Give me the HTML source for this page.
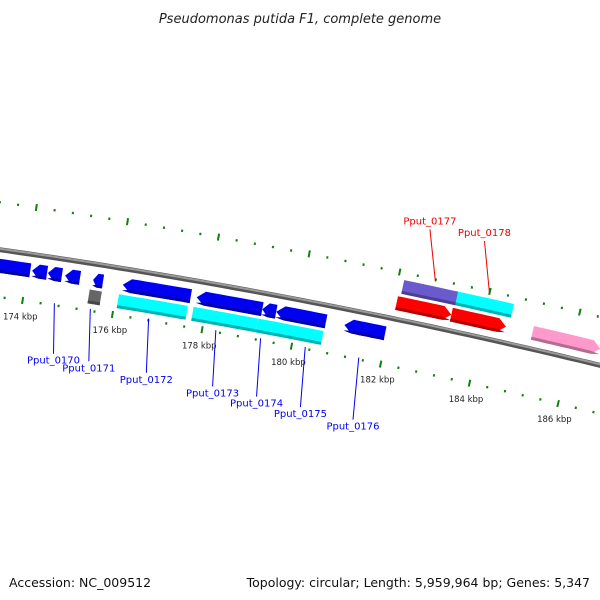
<!DOCTYPE html>
<html><head><meta charset="utf-8"><style>
html,body{margin:0;padding:0;background:#fff;}
svg{display:block;font-family:"DejaVu Sans","Liberation Sans",sans-serif;}
</style></head><body>
<svg id="map" width="600" height="600" viewBox="0 0 600 600">
<text x="300" y="23" text-anchor="middle" font-size="13" font-style="italic" fill="#222">Pseudomonas putida F1, complete genome</text>
<text x="9" y="587" font-size="12.5" fill="#111">Accession: NC_009512</text>
<text x="590" y="587" text-anchor="end" font-size="12.5" fill="#111">Topology: circular; Length: 5,959,964 bp; Genes: 5,347</text>
<g id="plot"></g>
</svg>
<script>
const tickKbp = [172,174,176,178,180,182,184,186,188];
const tickLabels = ["172 kbp","174 kbp","176 kbp","178 kbp","180 kbp","182 kbp","184 kbp","186 kbp","188 kbp"];
const geneStart = [172.3,174.11,174.46,174.84,175.46,176.12,177.76,179.22,179.53,181.05,175.42,176.07,177.73,179.17,179.5,182.13,183.33,182.07,183.29,185.1];
const geneEnd   = [174.07,174.44,174.77,175.17,175.68,177.63,179.22,179.53,180.64,181.96,175.69,177.6,179.17,179.5,180.63,183.33,184.57,183.29,184.51,186.62];
const geneLane  = ["in1","in1","in1","in1","in1","in1","in1","in1","in1","in1","in2","in2","in2","in2","in2","out2","out2","out1","out1","out1"];
const geneDir   = [-1,-1,-1,-1,-1,-1,-1,-1,-1,-1,0,0,0,0,0,0,0,1,1,1];
const geneColor = ["#0000f0","#0000f0","#0000f0","#0000f0","#0000f0","#0000f0","#0000f0","#0000f0","#0000f0","#0000f0","#666666","#00ffff","#00ffff","#00ffff","#00ffff","#6a5acd","#00ffff","#ff0000","#ff0000","#ff99cc"];
const labelNames = ["Pput_0170","Pput_0171","Pput_0172","Pput_0173","Pput_0174","Pput_0175","Pput_0176","Pput_0177","Pput_0178"];
const labelKbp   = [174.7,175.5,176.8,178.3,179.3,180.3,181.5,182.8,184.0];
const labelSide  = [-1,-1,-1,-1,-1,-1,-1,1,1];

const CX=-896, CY=6516, R=6330, PHI0=0.1612, DPHI=0.007235;
function ang(k){return PHI0+(k-176)*DPHI;}
function pt(k,d){const a=ang(k),r=R+d;return [CX+r*Math.sin(a), CY-r*Math.cos(a)];}
const NS="http://www.w3.org/2000/svg";
const plot=document.getElementById('plot');
function mk(tag,attrs){const e=document.createElementNS(NS,tag);for(const k in attrs)e.setAttribute(k,attrs[k]);plot.appendChild(e);return e;}
function ps(arr){return arr.map(p=>p[0].toFixed(1)+","+p[1].toFixed(1)).join(" ");}
const lanes={in1:[-9,-23],in2:[-26,-40],out1:[9,23],out2:[26,40]};

// backbone
let bb=[];for(let k=171;k<=190;k+=0.25)bb.push(pt(k,0));
let bl=mk('polyline',{points:ps(bb),fill:'none',stroke:'#555',"stroke-width":5});


let bl2=mk('polyline',{points:ps(bb.map(p=>[p[0],p[1]-1])),fill:'none',stroke:'#9a9a9a',"stroke-width":2});



// ticks
for(let k=171.2;k<=189;k+=0.4){
  const kk=Math.round(k*10)/10;
  const major=tickKbp.some(t=>Math.abs(t-kk)<0.01);
  [47,-47].forEach(d=>{
    const h=major?3.5:1.2;
    const a=pt(kk,d-h),b=pt(kk,d+h);
    const l=mk('line',{x1:a[0],y1:a[1],x2:b[0],y2:b[1],stroke:'#108010',"stroke-width":major?2:2});
    
    
  });
}
tickKbp.forEach((k,i)=>{
  const p=pt(k,-63);
  const t=mk('text',{x:p[0],y:p[1]+3,"text-anchor":"middle","font-size":"8.5",fill:'#222'});
  t.textContent=tickLabels[i];
  
  
});

function shade(c,f){const n=parseInt(c.slice(1),16);let r=(n>>16)&255,g=(n>>8)&255,b=n&255;r=Math.round(r*f);g=Math.round(g*f);b=Math.round(b*f);return "rgb("+r+","+g+","+b+")";}
function geneShape(s,e,d1,d2,dir){
  const len=e-s, h=Math.min(0.18,len*0.45), n=8, outer=Math.max(d1,d2), inner=Math.min(d1,d2), mid=(d1+d2)/2;
  const top=[],bot=[];
  let a=s,b=e;
  if(dir<0)a=s+h; if(dir>0)b=e-h;
  for(let i=0;i<=n;i++){const k=a+(b-a)*i/n;top.push(pt(k,outer));bot.push(pt(k,inner));}
  let poly=top.slice();
  if(dir>0)poly.push(pt(e,mid));
  poly=poly.concat(bot.reverse());
  if(dir<0)poly.push(pt(s,mid));
  return poly;
}
geneStart.forEach((s,i)=>{
  const ln=lanes[geneLane[i]];
  const poly=geneShape(s,geneEnd[i],ln[0],ln[1],geneDir[i]);
  const g=mk('polygon',{points:ps(poly),fill:geneColor[i]});
  
  
  // darker inner strip
  const inner=Math.min(ln[0],ln[1]);
  const strip=geneShape(s,geneEnd[i],inner,inner+3,geneDir[i]);
  const sd=mk('polygon',{points:ps(strip),fill:shade(geneColor[i],0.7)});
  
  
});

labelNames.forEach((nm,i)=>{
  const side=labelSide[i];
  const col=side<0?'#0000ee':'#ee0000';
  const a=pt(labelKbp[i],side<0?-45:45);
  const b=side<0?pt(labelKbp[i]+0.15,-45-50-i*2):pt(labelKbp[i]-0.35,45+50);
  const l=mk('line',{x1:a[0],y1:a[1],x2:b[0],y2:b[1],stroke:col,"stroke-width":1});
  
  
  const t=mk('text',{x:b[0],y:side<0?b[1]+10:b[1]-5,"text-anchor":"middle","font-size":"10",fill:col});
  t.textContent=nm;
  
  
});
</script>
</body></html>
